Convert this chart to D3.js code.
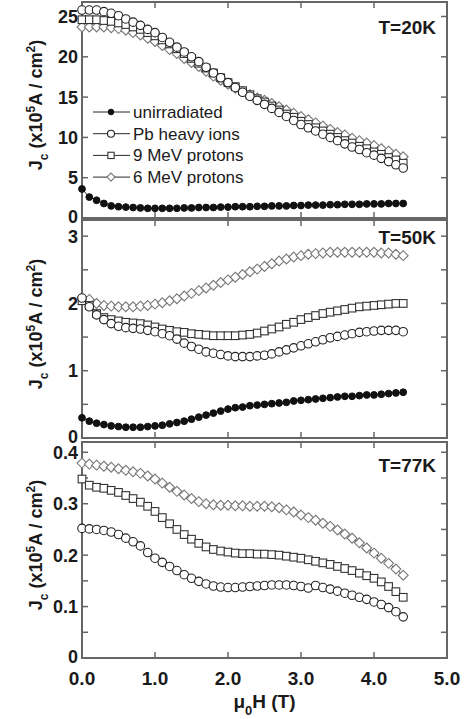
<!DOCTYPE html>
<html>
<head>
<meta charset="utf-8">
<script src="https://cdn.jsdelivr.net/npm/d3@7"></script>
<style>
  body { margin: 0; background: #fff; }
  svg { display: block; font-family: "Liberation Sans", Arial, sans-serif; }
</style>
</head>
<body>
<div id="canvas"></div>
<script>
// applied field mu0H (T)
const fieldT = [0.0, 0.1, 0.2, 0.3, 0.4, 0.5, 0.6, 0.7, 0.8, 0.9,
  1.0, 1.1, 1.2, 1.3, 1.4, 1.5, 1.6, 1.7, 1.8, 1.9,
  2.0, 2.1, 2.2, 2.3, 2.4, 2.5, 2.6, 2.7, 2.8, 2.9,
  3.0, 3.1, 3.2, 3.3, 3.4, 3.5, 3.6, 3.7, 3.8, 3.9,
  4.0, 4.1, 4.2, 4.3, 4.4];

const seriesNames = ["unirradiated", "Pb heavy ions", "9 MeV protons", "6 MeV protons"];
const seriesKeys = ["unirr", "pb", "p9", "p6"];

// T = 20K
const unirr20 = [3.6, 2.6, 2.2, 1.8, 1.5, 1.4, 1.35, 1.3, 1.25, 1.2,
  1.2, 1.2, 1.2, 1.2, 1.25, 1.25, 1.3, 1.3, 1.3, 1.35,
  1.35, 1.4, 1.4, 1.4, 1.45, 1.45, 1.5, 1.5, 1.5, 1.55,
  1.55, 1.6, 1.6, 1.6, 1.65, 1.65, 1.7, 1.7, 1.7, 1.75,
  1.75, 1.75, 1.8, 1.8, 1.8];
const pb20 = [25.8, 25.8, 25.8, 25.6, 25.4, 25.1, 24.7, 24.3, 23.9, 23.4,
  23.0, 22.4, 21.8, 21.2, 20.6, 20.0, 19.4, 18.7, 18.0, 17.4,
  16.8, 16.2, 15.6, 15.1, 14.6, 14.1, 13.6, 13.1, 12.6, 12.1,
  11.6, 11.2, 10.8, 10.4, 10.0, 9.6, 9.2, 8.8, 8.5, 8.1,
  7.8, 7.4, 7.0, 6.6, 6.2];
const p9_20 = [24.6, 24.6, 24.6, 24.5, 24.4, 24.2, 24.0, 23.7, 23.4, 23.0,
  22.6, 22.1, 21.6, 21.0, 20.4, 19.8, 19.2, 18.6, 18.0, 17.4,
  16.8, 16.3, 15.8, 15.3, 14.8, 14.4, 13.9, 13.4, 12.9, 12.5,
  12.0, 11.6, 11.2, 10.8, 10.4, 10.0, 9.6, 9.3, 8.9, 8.6,
  8.2, 7.9, 7.5, 7.2, 6.8];
const p6_20 = [23.7, 23.7, 23.7, 23.7, 23.6, 23.5, 23.3, 23.0, 22.7, 22.3,
  21.9, 21.4, 20.9, 20.4, 19.8, 19.3, 18.8, 18.2, 17.6, 17.1,
  16.6, 16.1, 15.7, 15.3, 14.9, 14.6, 14.2, 13.8, 13.4, 13.0,
  12.6, 12.2, 11.8, 11.4, 11.0, 10.6, 10.3, 9.9, 9.6, 9.3,
  9.0, 8.6, 8.3, 7.9, 7.6];

// T = 50K
const unirr50 = [0.30, 0.25, 0.22, 0.20, 0.18, 0.17, 0.16, 0.16, 0.16, 0.17,
  0.18, 0.19, 0.21, 0.23, 0.25, 0.28, 0.31, 0.34, 0.37, 0.40,
  0.43, 0.45, 0.46, 0.48, 0.49, 0.50, 0.51, 0.52, 0.53, 0.55,
  0.56, 0.57, 0.58, 0.59, 0.60, 0.61, 0.62, 0.62, 0.63, 0.64,
  0.64, 0.65, 0.66, 0.67, 0.68];
const pb50 = [2.08, 1.95, 1.83, 1.76, 1.70, 1.66, 1.64, 1.63, 1.62, 1.60,
  1.58, 1.55, 1.52, 1.47, 1.41, 1.36, 1.32, 1.28, 1.26, 1.24,
  1.22, 1.21, 1.21, 1.21, 1.22, 1.23, 1.25, 1.28, 1.31, 1.34,
  1.37, 1.40, 1.43, 1.46, 1.49, 1.51, 1.53, 1.55, 1.57, 1.58,
  1.59, 1.60, 1.60, 1.60, 1.58];
const p9_50 = [2.04, 1.97, 1.85, 1.79, 1.76, 1.74, 1.72, 1.71, 1.70, 1.68,
  1.65, 1.62, 1.60, 1.58, 1.57, 1.55, 1.54, 1.53, 1.52, 1.52,
  1.52, 1.52, 1.53, 1.54, 1.56, 1.59, 1.62, 1.65, 1.69, 1.72,
  1.76, 1.79, 1.82, 1.85, 1.87, 1.89, 1.91, 1.93, 1.95, 1.96,
  1.97, 1.98, 1.99, 2.00, 2.00];
const p6_50 = [2.08, 2.06, 2.00, 1.97, 1.96, 1.95, 1.95, 1.95, 1.96, 1.97,
  1.99, 2.01, 2.04, 2.07, 2.11, 2.15, 2.19, 2.23, 2.27, 2.31,
  2.35, 2.39, 2.43, 2.47, 2.51, 2.55, 2.59, 2.63, 2.66, 2.69,
  2.71, 2.73, 2.74, 2.75, 2.76, 2.76, 2.76, 2.76, 2.76, 2.76,
  2.76, 2.75, 2.75, 2.73, 2.71];

// T = 77K (no unirradiated data)
const pb77 = [0.252, 0.251, 0.250, 0.248, 0.245, 0.240, 0.233, 0.226, 0.218, 0.205,
  0.194, 0.186, 0.178, 0.170, 0.162, 0.155, 0.149, 0.144, 0.140, 0.138,
  0.137, 0.137, 0.138, 0.139, 0.140, 0.141, 0.142, 0.142, 0.142, 0.141,
  0.139, 0.136, 0.141, 0.137, 0.134, 0.130, 0.126, 0.122, 0.118, 0.114,
  0.109, 0.104, 0.098, 0.090, 0.080];
const p9_77 = [0.348, 0.336, 0.332, 0.330, 0.326, 0.322, 0.316, 0.310, 0.303, 0.295,
  0.285, 0.273, 0.261, 0.250, 0.240, 0.231, 0.223, 0.216, 0.211, 0.208,
  0.206, 0.204, 0.203, 0.203, 0.202, 0.202, 0.201, 0.200, 0.198, 0.196,
  0.194, 0.191, 0.188, 0.185, 0.182, 0.178, 0.174, 0.170, 0.165, 0.160,
  0.155, 0.148, 0.139, 0.129, 0.118];
const p6_77 = [0.379, 0.377, 0.375, 0.373, 0.371, 0.368, 0.365, 0.362, 0.359, 0.354,
  0.348, 0.340, 0.332, 0.324, 0.317, 0.310, 0.304, 0.300, 0.298, 0.297,
  0.297, 0.296, 0.296, 0.295, 0.295, 0.295, 0.294, 0.292, 0.288, 0.284,
  0.278, 0.273, 0.268, 0.262, 0.256, 0.249, 0.241, 0.233, 0.224, 0.214,
  0.204, 0.194, 0.184, 0.173, 0.161];

const xTickLabels = ["0.0", "1.0", "2.0", "3.0", "4.0", "5.0"];

const w = 469;
const h = 719;
const margin = { left: 82, right: 22 };

function render(){
  const svg = d3.select("#canvas")
                .append("svg")
                .attr("width", w)
                .attr("height", h);

  const x = d3.scaleLinear().domain([0, 5]).range([margin.left, w - margin.right]);

  const panels = [
    { label: "T=20K", top: 2, bottom: 218, max: 26.8, step: 5, labelStep: 5, labelY: 34,
      fmt: d => d3.format("d")(d),
      data: { unirr: unirr20, pb: pb20, p9: p9_20, p6: p6_20 }, legend: true },
    { label: "T=50K", top: 220, bottom: 438, max: 3.24, step: 0.5, labelStep: 1, labelY: 244,
      fmt: d => d3.format("d")(d),
      data: { unirr: unirr50, pb: pb50, p9: p9_50, p6: p6_50 } },
    { label: "T=77K", top: 442, bottom: 658, max: 0.42, step: 0.05, labelStep: 0.1, labelY: 472,
      fmt: d => d === 0 ? "0" : d3.format(".1f")(d),
      data: { pb: pb77, p9: p9_77, p6: p6_77 }, xLabels: true }
  ];

  const frameColor = "#666";
  const tickLen = 6;
  const textColor = "#1a1a1a";

  const markerStyle = {
    unirr: { fill: "#111", stroke: "#111" },
    pb: { fill: "#fff", stroke: "#222" },
    p9: { fill: "#fff", stroke: "#333" },
    p6: { fill: "#fff", stroke: "#777" }
  };

  function drawMarker(g, key, cx, cy, s){
    const st = markerStyle[key];
    if (key === "unirr") {
      g.append("circle").attr("cx", cx).attr("cy", cy).attr("r", s * 0.4)
        .attr("fill", st.fill).attr("stroke", st.stroke).attr("stroke-width", 1);
    } else if (key === "pb") {
      g.append("circle").attr("cx", cx).attr("cy", cy).attr("r", s * 0.5)
        .attr("fill", st.fill).attr("stroke", st.stroke).attr("stroke-width", 1.1);
    } else if (key === "p9") {
      g.append("rect").attr("x", cx - s * 0.45).attr("y", cy - s * 0.45)
        .attr("width", s * 0.9).attr("height", s * 0.9)
        .attr("fill", st.fill).attr("stroke", st.stroke).attr("stroke-width", 1.1);
    } else {
      const r = s * 0.58;
      g.append("path")
        .attr("d", `M${cx},${cy - r}L${cx + r},${cy}L${cx},${cy + r}L${cx - r},${cy}Z`)
        .attr("fill", st.fill).attr("stroke", st.stroke).attr("stroke-width", 1.1);
    }
  }

  panels.forEach((p, pi) => {
    const y = d3.scaleLinear().domain([0, p.max]).range([p.bottom, p.top]);
    const g = svg.append("g");

    // y ticks (inward on both sides)
    const ticks = d3.range(0, p.max + 1e-9, p.step).map(v => +v.toFixed(3));
    ticks.forEach(v => {
      if (v === 0) return;
      g.append("line").attr("x1", x(0)).attr("x2", x(0) + tickLen)
        .attr("y1", y(v)).attr("y2", y(v)).attr("stroke", frameColor).attr("stroke-width", 1.5);
      g.append("line").attr("x1", x(5)).attr("x2", x(5) - tickLen)
        .attr("y1", y(v)).attr("y2", y(v)).attr("stroke", frameColor).attr("stroke-width", 1.5);
    });
    const labelTicks = d3.range(0, p.max + 1e-9, p.labelStep).map(v => +v.toFixed(3));
    labelTicks.forEach(v => {
      const off = v === 0 ? 4.5 : 6.5;
      g.append("text").attr("x", x(0) - 4).attr("y", y(v) + off)
        .attr("text-anchor", "end").attr("font-size", 18).attr("font-weight", "bold")
        .attr("fill", textColor)
        .text(p.fmt(v));
    });

    // x ticks top and bottom of each panel
    [1, 2, 3, 4].forEach(v => {
      g.append("line").attr("x1", x(v)).attr("x2", x(v))
        .attr("y1", p.top).attr("y2", p.top + tickLen).attr("stroke", frameColor).attr("stroke-width", 1.5);
      g.append("line").attr("x1", x(v)).attr("x2", x(v))
        .attr("y1", p.bottom).attr("y2", p.bottom - tickLen).attr("stroke", frameColor).attr("stroke-width", 1.5);
    });

    // frame
    g.append("rect").attr("x", x(0)).attr("y", p.top)
      .attr("width", x(5) - x(0)).attr("height", p.bottom - p.top)
      .attr("fill", "none").attr("stroke", frameColor).attr("stroke-width", 2);

    // series
    const line = d3.line().x((d, i) => x(fieldT[i])).y(d => y(d));
    ["p6", "p9", "pb", "unirr"].forEach(key => {
      const vals = p.data[key];
      if (!vals) return;
      const sg = g.append("g").classed("series-" + key, true);
      sg.append("path").attr("d", line(vals)).attr("fill", "none")
        .attr("stroke", "#111").attr("stroke-width", 0.9);
      vals.forEach((v, i) => drawMarker(sg, key, x(fieldT[i]), y(v), 8.5));
    });

    // temperature label
    g.append("text").attr("x", x(5) - 11).attr("y", p.labelY)
      .attr("text-anchor", "end").attr("font-size", 19).attr("font-weight", "bold")
      .attr("fill", textColor)
      .text(p.label);

    // y axis title
    const cy = (p.top + p.bottom) / 2 - 5;
    const t = g.append("text").attr("transform", `translate(42,${cy}) rotate(-90)`)
      .attr("text-anchor", "middle").attr("font-size", 18).attr("font-weight", "bold")
      .attr("fill", textColor);
    t.append("tspan").text("J");
    t.append("tspan").attr("dy", 6).attr("font-size", 12).text("c");
    t.append("tspan").attr("dy", -6).text(" (x10");
    t.append("tspan").attr("dy", -7).attr("font-size", 12).text("5");
    t.append("tspan").attr("dy", 7).text("A / cm");
    t.append("tspan").attr("dy", -7).attr("font-size", 12).text("2");
    t.append("tspan").attr("dy", 7).text(")");

    // legend
    if (p.legend) {
      seriesKeys.forEach((key, i) => {
        const ly = 112 + i * 21.7;
        const lg = g.append("g");
        lg.append("line").attr("x1", 93).attr("x2", 130).attr("y1", ly).attr("y2", ly)
          .attr("stroke", "#111").attr("stroke-width", 0.9);
        drawMarker(lg, key, 111, ly, 7);
        lg.append("text").attr("x", 133).attr("y", ly + 6).attr("font-size", 17)
          .attr("fill", textColor).text(seriesNames[i]);
      });
    }

    // x tick labels below the last panel
    if (p.xLabels) {
      xTickLabels.forEach((lab, i) => {
        g.append("text").attr("x", x(i)).attr("y", p.bottom + 27)
          .attr("text-anchor", "middle").attr("font-size", 19).attr("font-weight", "bold")
          .attr("fill", textColor)
          .text(lab);
      });
      const xt = g.append("text").attr("x", x(2.5)).attr("y", p.bottom + 50)
        .attr("text-anchor", "middle").attr("font-size", 19).attr("font-weight", "bold")
        .attr("fill", textColor);
      xt.append("tspan").text("\u03bc");
      xt.append("tspan").attr("dy", 7).attr("font-size", 13).text("0");
      xt.append("tspan").attr("dy", -7).text("H (T)");
    }
  });
}

render();
</script>
</body>
</html>
